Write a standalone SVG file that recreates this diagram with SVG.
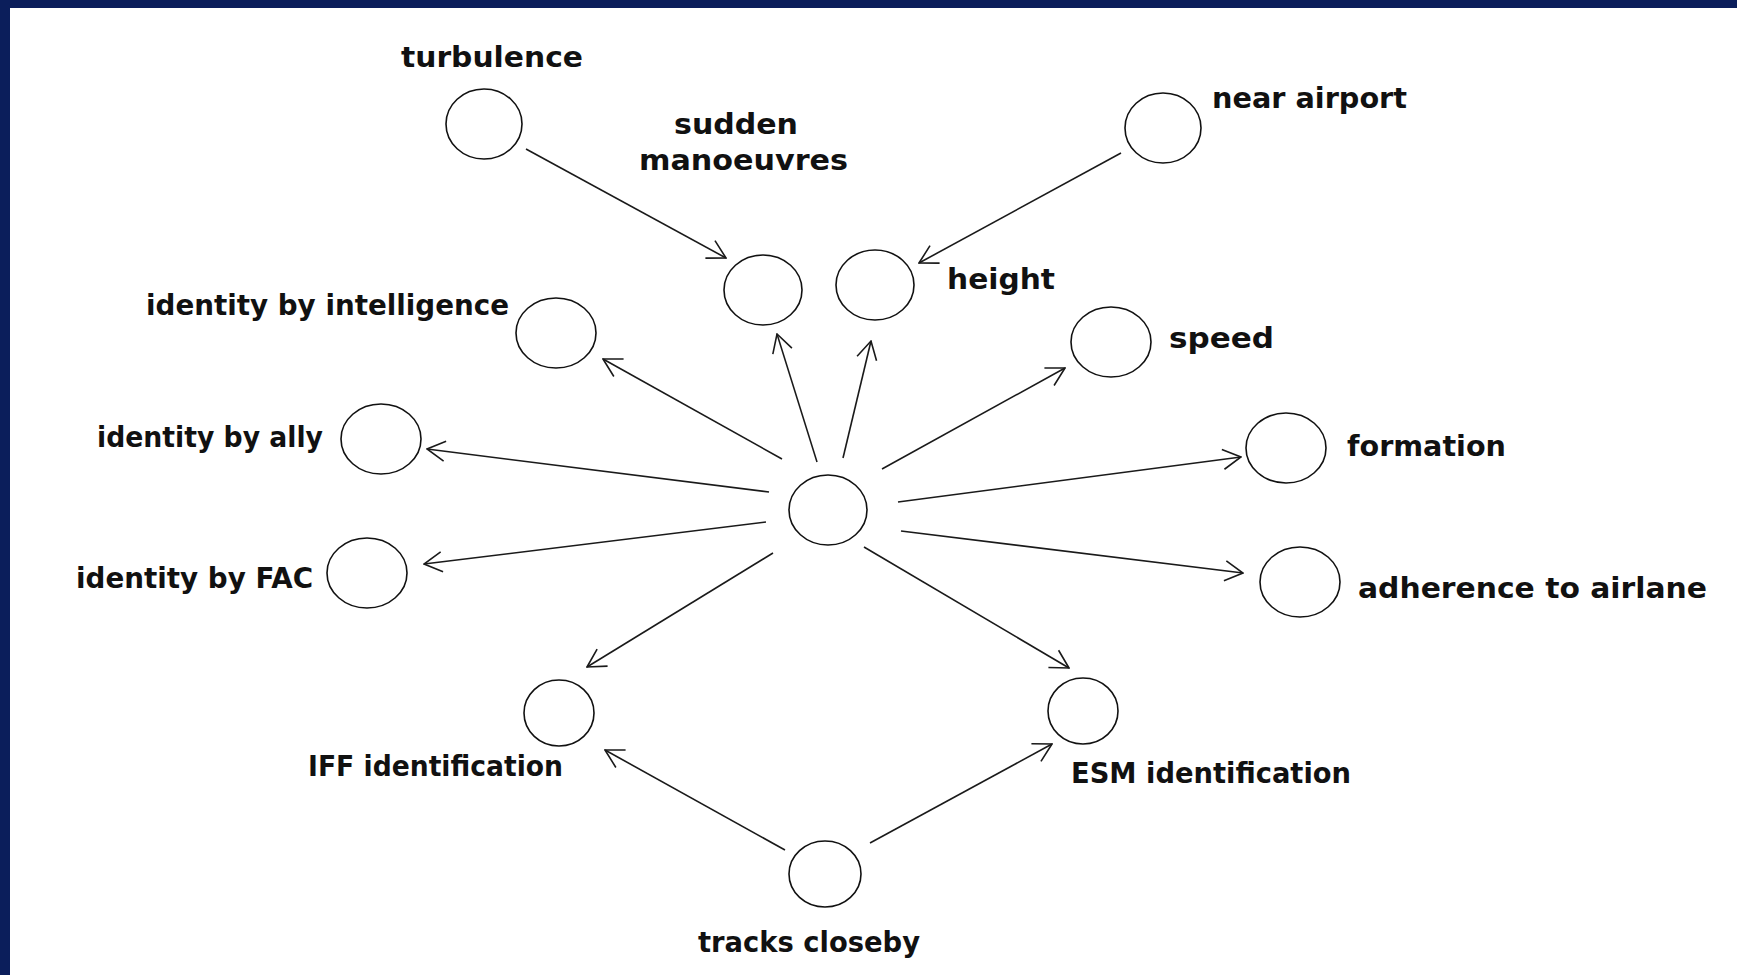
<svg xmlns="http://www.w3.org/2000/svg" width="1737" height="975" viewBox="0 0 1737 975">
<style>
.node ellipse{fill:#ffffff;stroke:#111;stroke-width:1.6}
.lbl{font-family:"DejaVu Sans","Liberation Sans",sans-serif;font-weight:bold;font-size:28px;fill:#111}
.edge{stroke:#1a1a1a;stroke-width:1.6;fill:none;marker-end:url(#arr)}
</style>
<defs>
<marker id="arr" viewBox="0 0 20 24" refX="19" refY="12" markerWidth="20" markerHeight="24" markerUnits="userSpaceOnUse" orient="auto">
<path d="M1,2 L19,12 L1,22" fill="none" stroke="#1a1a1a" stroke-width="1.6"/>
</marker>
</defs>
<rect x="0" y="0" width="1737" height="975" fill="#ffffff"/>
<rect x="0" y="0" width="1737" height="8" fill="#0b1e5b"/>
<rect x="0" y="0" width="10" height="975" fill="#0b1e5b"/>

<g id="connectors">
<line class="edge" x1="526" y1="149" x2="726" y2="258"/>
<line class="edge" x1="1121" y1="153" x2="919" y2="263"/>
<line class="edge" x1="782" y1="459" x2="603" y2="359"/>
<line class="edge" x1="817" y1="462" x2="777" y2="334"/>
<line class="edge" x1="843" y1="458" x2="871" y2="341"/>
<line class="edge" x1="882" y1="469" x2="1065" y2="368"/>
<line class="edge" x1="769" y1="492" x2="427" y2="449"/>
<line class="edge" x1="898" y1="502" x2="1241" y2="457"/>
<line class="edge" x1="766" y1="522" x2="424" y2="564"/>
<line class="edge" x1="901" y1="531" x2="1243" y2="573"/>
<line class="edge" x1="773" y1="553" x2="587" y2="667"/>
<line class="edge" x1="864" y1="547" x2="1069" y2="668"/>
<line class="edge" x1="785" y1="850" x2="605" y2="750"/>
<line class="edge" x1="870" y1="843" x2="1052" y2="744"/>
</g>

<g id="center" class="node"><ellipse cx="828" cy="510" rx="39" ry="35"/></g>
<g id="turbulence" class="node"><ellipse cx="484" cy="124" rx="38" ry="35"/><text class="lbl" x="401" y="67" textLength="182" lengthAdjust="spacingAndGlyphs">turbulence</text></g>
<g id="sudden-manoeuvres" class="node"><ellipse cx="763" cy="290" rx="39" ry="35"/><text class="lbl" x="674" y="134" textLength="124" lengthAdjust="spacingAndGlyphs">sudden</text><text class="lbl" x="639" y="170" textLength="209" lengthAdjust="spacingAndGlyphs">manoeuvres</text></g>
<g id="height" class="node"><ellipse cx="875" cy="285" rx="39" ry="35"/><text class="lbl" x="947" y="289" textLength="108" lengthAdjust="spacingAndGlyphs">height</text></g>
<g id="near-airport" class="node"><ellipse cx="1163" cy="128" rx="38" ry="35"/><text class="lbl" x="1212" y="108" textLength="195" lengthAdjust="spacingAndGlyphs">near airport</text></g>
<g id="identity-by-intelligence" class="node"><ellipse cx="556" cy="333" rx="40" ry="35"/><text class="lbl" x="146" y="315" textLength="363" lengthAdjust="spacingAndGlyphs">identity by intelligence</text></g>
<g id="speed" class="node"><ellipse cx="1111" cy="342" rx="40" ry="35"/><text class="lbl" x="1169" y="348" textLength="105" lengthAdjust="spacingAndGlyphs">speed</text></g>
<g id="identity-by-ally" class="node"><ellipse cx="381" cy="439" rx="40" ry="35"/><text class="lbl" x="97" y="447" textLength="226" lengthAdjust="spacingAndGlyphs">identity by ally</text></g>
<g id="formation" class="node"><ellipse cx="1286" cy="448" rx="40" ry="35"/><text class="lbl" x="1347" y="456" textLength="159" lengthAdjust="spacingAndGlyphs">formation</text></g>
<g id="identity-by-FAC" class="node"><ellipse cx="367" cy="573" rx="40" ry="35"/><text class="lbl" x="76" y="588" textLength="237" lengthAdjust="spacingAndGlyphs">identity by FAC</text></g>
<g id="adherence-to-airlane" class="node"><ellipse cx="1300" cy="582" rx="40" ry="35"/><text class="lbl" x="1358" y="598" textLength="349" lengthAdjust="spacingAndGlyphs">adherence to airlane</text></g>
<g id="IFF-identification" class="node"><ellipse cx="559" cy="713" rx="35" ry="33"/><text class="lbl" x="308" y="776" textLength="255" lengthAdjust="spacingAndGlyphs">IFF identification</text></g>
<g id="ESM-identification" class="node"><ellipse cx="1083" cy="711" rx="35" ry="33"/><text class="lbl" x="1071" y="783" textLength="280" lengthAdjust="spacingAndGlyphs">ESM identification</text></g>
<g id="tracks-closeby" class="node"><ellipse cx="825" cy="874" rx="36" ry="33"/><text class="lbl" x="698" y="952" textLength="222" lengthAdjust="spacingAndGlyphs">tracks closeby</text></g>
</svg>
